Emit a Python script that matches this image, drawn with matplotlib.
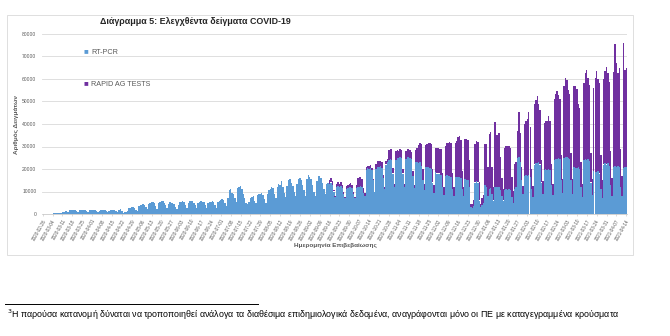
import numpy as np
import pandas as pd
import matplotlib
matplotlib.use("Agg")
import matplotlib.pyplot as plt
from matplotlib.patches import Rectangle

plt.rcParams['font.family'] = ['Liberation Sans', 'DejaVu Sans']

# ── data: daily samples, one row per week (Wed..Tue) ──
START = "2020-02-26"
RAPID_START = "2020-09-16"

pcr_weeks = [
    [20, 40, 60, 80, 90, 110, 150],                        # 2020-02-26
    [200, 250, 400, 350, 250, 500, 600],
    [700, 900, 1300, 1500, 1100, 1600, 1900],
    [1800, 1700, 1900, 1500, 1100, 1600, 1800],
    [1700, 1600, 1800, 1400, 1100, 1700, 1900],
    [1600, 1800, 1700, 1300, 1000, 1500, 1700],            # 2020-04-01
    [1800, 1900, 1600, 1200, 900, 1400, 2000],
    [1800, 2000, 1900, 1500, 1100, 1600, 2400],
    [1200, 600, 700, 900, 1200, 2500, 2800],
    [3200, 3000, 2600, 2000, 1500, 3600, 3800],
    [4200, 4500, 4000, 3000, 2200, 4300, 5000],            # 2020-05-06
    [5200, 5500, 4800, 3600, 2400, 4800, 5500],
    [6000, 5800, 5000, 4000, 2800, 4600, 5200],
    [5000, 4800, 4500, 3200, 2200, 4200, 5400],
    [5500, 5800, 5200, 4000, 2600, 4800, 5600],            # 2020-06-03
    [5800, 5600, 5000, 3800, 2500, 5000, 5500],
    [5600, 5400, 5200, 3900, 2600, 5000, 5500],
    [5400, 5600, 5300, 4000, 2800, 5200, 6000],
    [6200, 6800, 6400, 5000, 3500, 7000, 10500],           # 2020-07-01
    [11000, 9500, 9000, 7000, 5500, 11500, 12000],
    [12500, 11000, 9000, 7000, 5000, 4500, 5500],
    [7000, 7500, 8000, 6000, 5000, 8500, 9000],
    [9000, 9500, 8500, 6500, 5000, 9000, 10500],
    [11000, 12000, 11500, 9000, 7000, 12000, 13500],       # 2020-08-05
    [13000, 14500, 12000, 9500, 7500, 12500, 15000],
    [15500, 14000, 12500, 10000, 8000, 13500, 15500],
    [16000, 15000, 13000, 10500, 8000, 15500, 17500],
    [16500, 15500, 13000, 10000, 8000, 14500, 17000],      # 2020-09-02
    [17000, 16000, 14000, 11000, 9000, 13500, 14000],
    [13500, 14000, 13000, 10000, 7500, 12000, 12500],
    [12000, 12500, 11500, 9000, 7000, 11000, 11500],
    [12000, 12000, 11500, 9000, 7000, 11500, 12000],
    [12000, 12500, 12000, 9500, 8000, 19500, 20500],       # 2020-10-07
    [20000, 20500, 19500, 15000, 10000, 20000, 21000],
    [21000, 21500, 20500, 16000, 11000, 22000, 23000],
    [24000, 24500, 24000, 18000, 12000, 24000, 25000],
    [25000, 25500, 25000, 18000, 12000, 24500, 25500],     # 2020-11-04
    [25500, 25000, 24500, 17000, 11500, 23000, 23000],
    [22500, 23000, 21500, 15000, 10500, 21000, 21000],
    [21000, 20500, 20000, 14000, 9500, 18500, 18000],
    [18000, 18000, 17500, 12000, 8500, 17000, 17500],      # 2020-12-02
    [17000, 17000, 16500, 11000, 8000, 16500, 16500],
    [16500, 16500, 16000, 11000, 8000, 15500, 15000],
    [15000, 12000, 3000, 2500, 3500, 14000, 14500],
    [14000, 6000, 3000, 4000, 5000, 13000, 12000],
    [8000, 11000, 11500, 9000, 6000, 12000, 12000],        # 2021-01-06
    [12000, 12000, 10500, 8000, 6000, 10500, 11000],
    [10500, 11000, 10500, 7500, 5000, 11000, 12000],
    [25000, 25500, 23000, 15000, 9000, 17000, 17500],
    [17000, 17500, 16500, 11000, 7500, 22000, 22500],      # 2021-02-03
    [22500, 23000, 22000, 14000, 9000, 19500, 20000],
    [19500, 20000, 19500, 13000, 8500, 24000, 24500],
    [24500, 25000, 24500, 15000, 9500, 25000, 25500],
    [25500, 25000, 24500, 15000, 9000, 21000, 20500],      # 2021-03-03
    [20500, 21000, 20000, 12000, 7500, 24000, 24500],
    [24000, 24500, 23500, 14000, 8500, 19000, 18500],
    [18500, 19000, 18000, 11000, 7000, 22000, 22500],
    [22000, 22500, 21500, 13000, 8000, 21000, 21500],      # 2021-03-31
    [21000, 21500, 21000, 12000, 8000, 20500, 21000],
    [21000],                                               # 2021-04-14
]

rapid_weeks = [
    [1500, 1800, 1500, 800, 500, 1200, 1500],              # 2020-09-16
    [1200, 1500, 1300, 700, 400, 1300, 1500],
    [1500, 1800, 1600, 900, 600, 1500, 4000],
    [4500, 4000, 3500, 2000, 1200, 1500, 1000],            # 2020-10-07
    [1500, 1200, 1000, 600, 400, 2000, 2500],
    [2500, 2000, 2500, 1200, 800, 1500, 1500],
    [4500, 4500, 5000, 2500, 1500, 4000, 3500],
    [3000, 3500, 3500, 2000, 1500, 3500, 3500],            # 2020-11-04
    [3500, 3500, 3000, 2000, 1500, 5500, 6500],
    [8000, 8500, 9500, 5000, 3000, 9500, 10000],
    [10500, 11000, 11000, 6000, 3500, 11000, 11500],
    [11500, 11000, 11500, 6000, 3500, 13000, 14000],       # 2020-12-02
    [14500, 15000, 15000, 7000, 4000, 15000, 16000],
    [17500, 18000, 17000, 8000, 4000, 18000, 18500],
    [18000, 12000, 1500, 2000, 2500, 17000, 18000],
    [18000, 8000, 1500, 3000, 3500, 18000, 19000],
    [13000, 24500, 25000, 12000, 6000, 29000, 23000],      # 2021-01-06
    [23000, 24000, 15000, 8000, 5000, 19000, 19000],
    [19500, 19000, 19000, 9000, 5000, 11000, 11000],
    [12000, 20000, 13000, 6000, 3500, 23000, 24000],
    [25000, 28000, 22000, 9000, 5000, 27000, 28000],       # 2021-02-03
    [30000, 26000, 24000, 10000, 5500, 21000, 21500],
    [22000, 23500, 22000, 9000, 5000, 27000, 29000],
    [30000, 28000, 26500, 11000, 6000, 32000, 35000],
    [34000, 30000, 29000, 12000, 6500, 36000, 36500],      # 2021-03-03
    [35000, 28000, 27000, 11000, 6000, 34000, 38000],
    [40000, 36000, 34000, 13000, 7000, 37000, 42000],
    [45000, 41000, 40000, 15000, 8000, 38000, 41000],
    [43500, 40000, 37000, 15000, 8000, 42000, 54000],      # 2021-03-31
    [46000, 41000, 44000, 17000, 9000, 55500, 43000],
    [44000],                                               # 2021-04-14
]

legend_labels = ["RT-PCR", "RAPID AG TESTS"]
title = "Διάγραμμα 5: Ελεγχθέντα δείγματα COVID-19"
ylabel = "Αριθμός Δειγμάτων"
xlabel = "Ημερομηνία Επιβεβαίωσης"
footnote = "Η παρούσα κατανομή δύναται να τροποποιηθεί ανάλογα τα διαθέσιμα επιδημιολογικά δεδομένα, αναγράφονται μόνο οι ΠΕ με καταγεγραμμένα κρούσματα"

BLUE = "#5B9BD5"
PURPLE = "#7030A0"
GRID = "#D9D9D9"
TXT = "#595959"

# ── assemble daily series ──
pcr = np.array([v for w in pcr_weeks for v in w], dtype=float)
dates = pd.date_range(START, periods=len(pcr), freq="D")
rapid_vals = np.array([v for w in rapid_weeks for v in w], dtype=float)
offset = (pd.Timestamp(RAPID_START) - pd.Timestamp(START)).days
rapid = np.zeros_like(pcr)
rapid[offset:offset + len(rapid_vals)] = rapid_vals

x = np.arange(len(pcr))

fig = plt.figure(figsize=(6.7, 3.36), dpi=100)

# chart frame
fig.patches.append(Rectangle((7 / 670, 1 - 255 / 336), 626 / 670, 240 / 336,
                             transform=fig.transFigure, fill=False,
                             edgecolor="#D9D9D9", lw=0.6))

ax = fig.add_axes([42 / 670, 1 - 214 / 336, 585 / 670, 180 / 336])
ax.bar(x, pcr, width=1.0, color=BLUE, linewidth=0, label=legend_labels[0])
ax.bar(x, rapid, width=1.0, bottom=pcr, color=PURPLE, linewidth=0,
       label=legend_labels[1])

ax.set_xlim(-0.5, len(pcr) - 0.5)
ax.set_ylim(0, 80000)
ax.set_yticks(np.arange(0, 80001, 10000))
ax.tick_params(axis="y", labelsize=3.6, colors=TXT, length=0, pad=4)
ax.yaxis.grid(True, color=GRID, lw=0.6)
ax.set_axisbelow(True)

tick_idx = np.arange(0, len(pcr), 7)
ax.set_xticks(tick_idx)
ax.set_xticklabels([dates[i].strftime("%Y-%m-%d") for i in tick_idx],
                   rotation=60, ha="right", rotation_mode="anchor",
                   fontsize=3.3, color=TXT)
ax.tick_params(axis="x", length=1.5, width=0.4, colors="#BFBFBF", pad=1.5)
for lbl in ax.get_xticklabels():
    lbl.set_color(TXT)

for s in ["top", "right", "left"]:
    ax.spines[s].set_visible(False)
ax.spines["bottom"].set_color("#BFBFBF")
ax.spines["bottom"].set_linewidth(0.5)

# legend (placed inside the plot, stacked far apart like the source)
fig.text(83 / 670, 1 - 52 / 336, "■", color=BLUE, fontsize=5.6, va="center")
fig.text(91 / 670, 1 - 52 / 336, legend_labels[0], color=TXT, fontsize=5.2, va="center")
fig.text(83 / 670, 1 - 84 / 336, "■", color=PURPLE, fontsize=5.6, va="center")
fig.text(91 / 670, 1 - 84 / 336, legend_labels[1], color=TXT, fontsize=5.2, va="center")

fig.text(100 / 670, 1 - 22 / 336, title, fontsize=6.4, fontweight="bold",
         color="#262626", va="center")
fig.text(16 / 670, 1 - 125 / 336, ylabel, rotation=90, fontsize=4.6,
         fontweight="bold", color=TXT, ha="center", va="center")
fig.text(335 / 670, 1 - 245 / 336, xlabel, fontsize=4.6, fontweight="bold",
         color=TXT, ha="center", va="center")

# footnote
fig.add_artist(plt.Line2D([5 / 670, 258 / 670], [1 - 304 / 336, 1 - 304 / 336],
                          transform=fig.transFigure, color="black", lw=0.7))
fig.text(7 / 670, 1 - 315 / 336, "$^{3}$" + footnote, fontsize=6.4,
         color="black", va="center")

fig.savefig("out.png", dpi=100)
